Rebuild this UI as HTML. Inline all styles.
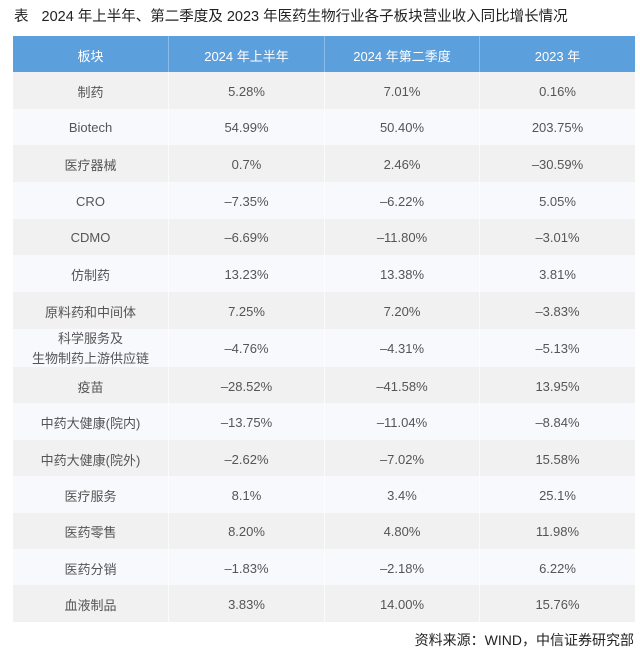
<!DOCTYPE html>
<html><head><meta charset="utf-8">
<style>
html,body{margin:0;padding:0;background:#fff;}
body{width:640px;height:661px;position:relative;overflow:hidden;font-family:"Liberation Sans","Noto Sans CJK SC",sans-serif;}
.title{position:absolute;left:14px;top:7px;font-size:14.5px;color:#222;white-space:nowrap;line-height:20px;}
.title .b{margin-right:13px;}
.tbl{position:absolute;left:13px;top:36px;width:622px;}
.row{display:flex;}
.row div{display:flex;align-items:center;justify-content:center;text-align:center;font-size:13px;color:#555;border-left:1px solid rgba(255,255,255,0.7);box-sizing:border-box;padding-top:2px;}
.row div:first-child{border-left:none;}
.c1{width:155px;}.c2{width:156px;}.c3{width:155px;}.c4{width:156px;}
.hdr{height:36px;background:#5c9fdd;}
.hdr div{color:#fff;border-left:1px solid #8bbbe8;}
.g{background:#f1f1f1;}
.l{background:#f7f9fc;}
.two{line-height:20px;}
.src{position:absolute;right:6px;top:630px;font-size:14px;color:#222;white-space:nowrap;line-height:20px;}
</style></head><body>
<div class="title"><span class="b">表</span>2024 年上半年、第二季度及 2023 年医药生物行业各子板块营业收入同比增长情况</div>
<div class="tbl">
<div class="row hdr"><div class="c1">板块</div><div class="c2">2024 年上半年</div><div class="c3">2024 年第二季度</div><div class="c4">2023 年</div></div>
<div class="row g" style="height:36.67px"><div class="c1">制药</div><div class="c2">5.28%</div><div class="c3">7.01%</div><div class="c4">0.16%</div></div>
<div class="row l" style="height:36.67px"><div class="c1">Biotech</div><div class="c2">54.99%</div><div class="c3">50.40%</div><div class="c4">203.75%</div></div>
<div class="row g" style="height:36.67px"><div class="c1">医疗器械</div><div class="c2">0.7%</div><div class="c3">2.46%</div><div class="c4">–30.59%</div></div>
<div class="row l" style="height:36.67px"><div class="c1">CRO</div><div class="c2">–7.35%</div><div class="c3">–6.22%</div><div class="c4">5.05%</div></div>
<div class="row g" style="height:36.67px"><div class="c1">CDMO</div><div class="c2">–6.69%</div><div class="c3">–11.80%</div><div class="c4">–3.01%</div></div>
<div class="row l" style="height:36.67px"><div class="c1">仿制药</div><div class="c2">13.23%</div><div class="c3">13.38%</div><div class="c4">3.81%</div></div>
<div class="row g" style="height:36.67px"><div class="c1">原料药和中间体</div><div class="c2">7.25%</div><div class="c3">7.20%</div><div class="c4">–3.83%</div></div>
<div class="row l" style="height:38.5px"><div class="c1 two">科学服务及<br>生物制药上游供应链</div><div class="c2">–4.76%</div><div class="c3">–4.31%</div><div class="c4">–5.13%</div></div>
<div class="row g" style="height:36.4px"><div class="c1">疫苗</div><div class="c2">–28.52%</div><div class="c3">–41.58%</div><div class="c4">13.95%</div></div>
<div class="row l" style="height:36.4px"><div class="c1">中药大健康(院内)</div><div class="c2">–13.75%</div><div class="c3">–11.04%</div><div class="c4">–8.84%</div></div>
<div class="row g" style="height:36.4px"><div class="c1">中药大健康(院外)</div><div class="c2">–2.62%</div><div class="c3">–7.02%</div><div class="c4">15.58%</div></div>
<div class="row l" style="height:36.4px"><div class="c1">医疗服务</div><div class="c2">8.1%</div><div class="c3">3.4%</div><div class="c4">25.1%</div></div>
<div class="row g" style="height:36.4px"><div class="c1">医药零售</div><div class="c2">8.20%</div><div class="c3">4.80%</div><div class="c4">11.98%</div></div>
<div class="row l" style="height:36.4px"><div class="c1">医药分销</div><div class="c2">–1.83%</div><div class="c3">–2.18%</div><div class="c4">6.22%</div></div>
<div class="row g" style="height:36.4px"><div class="c1">血液制品</div><div class="c2">3.83%</div><div class="c3">14.00%</div><div class="c4">15.76%</div></div>
</div>
<div class="src">资料来源：WIND，中信证券研究部</div>
</body></html>
